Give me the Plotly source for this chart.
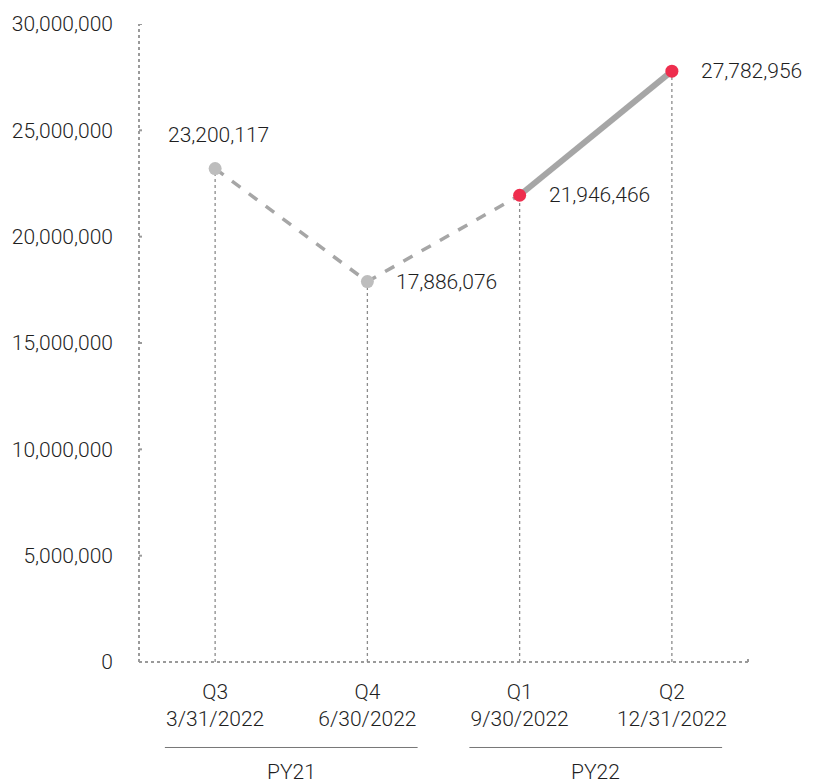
import plotly.graph_objects as go

# Quarterly values
quarters = ["Q3", "Q4", "Q1", "Q2"]
dates = ["3/31/2022", "6/30/2022", "9/30/2022", "12/31/2022"]
values = [23200117, 17886076, 21946466, 27782956]
fiscal_years = ["PY21", "PY22"]
year_spans = [(0, 1), (2, 3)]

marker_colors = ["#bdbdbd", "#bdbdbd", "#ee2e4e", "#ee2e4e"]

FONT = "Roboto"
TXT = "#1f1f1f"
GRID = "#9a9a9a"
LINE = "#a6a6a6"

def font(size=21):
    return dict(family=FONT, size=size, color=TXT, weight=300)

x = list(range(len(quarters)))
fig = go.Figure()

# Drop lines from each point down to zero
for xi, v in zip(x, values):
    fig.add_trace(go.Scatter(
        x=[xi, xi], y=[0, v], mode="lines",
        line=dict(color="#8c8c8c", width=1.3, dash="dot"),
        hoverinfo="skip", showlegend=False))

# Prior-year trend (dashed)
fig.add_trace(go.Scatter(
    x=x[:3], y=values[:3], mode="lines",
    line=dict(color=LINE, width=3.5, dash="dash"),
    hoverinfo="skip", showlegend=False))

# Current-year trend (solid)
fig.add_trace(go.Scatter(
    x=x[2:], y=values[2:], mode="lines",
    line=dict(color=LINE, width=6),
    hoverinfo="skip", showlegend=False))

# Points
fig.add_trace(go.Scatter(
    x=x, y=values, mode="markers",
    marker=dict(color=marker_colors, size=13),
    cliponaxis=False, showlegend=False))

# Value labels
for i, (xi, v) in enumerate(zip(x, values)):
    if i == 0:
        fig.add_annotation(x=xi, y=v, text=f"{v:,}", showarrow=False,
                           xanchor="center", yanchor="middle", xshift=3, yshift=34,
                           font=font())
    else:
        fig.add_annotation(x=xi, y=v, text=f"{v:,}", showarrow=False,
                           xanchor="left", yanchor="middle", xshift=27,
                           font=font())

fig.update_xaxes(
    range=[-0.5, 3.5],
    tickmode="array", tickvals=x,
    ticktext=[f"{q}<br>{d}" for q, d in zip(quarters, dates)],
    tickfont=font(),
    showgrid=False, zeroline=False,
    showline=False, ticks="", ticklabelstandoff=15,
)
fig.update_yaxes(
    range=[0, 30000000],
    tickvals=[0, 5000000, 10000000, 15000000, 20000000, 25000000, 30000000],
    tickformat=",d",
    tickfont=font(),
    showgrid=False, zeroline=False, showline=False,
    ticks="", ticklabelstandoff=25,
)

# Dotted axis lines
fig.add_shape(type="line", xref="paper", yref="paper", x0=0, x1=0, y0=0, y1=1,
              line=dict(color=GRID, width=2, dash="dot"), layer="below")
fig.add_shape(type="line", xref="paper", yref="paper", x0=0, x1=1, y0=0, y1=0,
              line=dict(color=GRID, width=2, dash="dot"), layer="below")
# small inside ticks on the value axis
for t in [5000000, 10000000, 15000000, 20000000, 25000000, 30000000]:
    fig.add_shape(type="line", xref="paper", yref="y", x0=0, x1=0.008, y0=t, y1=t,
                  line=dict(color=GRID, width=2, dash="dot"))
fig.add_shape(type="line", xref="paper", yref="paper", x0=1, x1=1, y0=0, y1=0.008,
              line=dict(color=GRID, width=2, dash="dot"))

# Fiscal-year grouping
for name, (a, b) in zip(fiscal_years, year_spans):
    fig.add_shape(type="line", xref="x", yref="paper", x0=a - 0.33, x1=b + 0.33,
                  y0=-0.134, y1=-0.134, line=dict(color="#777777", width=1))
    fig.add_annotation(x=(a + b) / 2, y=-0.134, xref="x", yref="paper",
                       text=name, showarrow=False, yanchor="top", yshift=-11,
                       font=font())

fig.update_layout(
    width=815, height=783,
    margin=dict(l=138, r=67, t=21, b=121),
    plot_bgcolor="white", paper_bgcolor="white",
)

fig.write_html("out.html")
